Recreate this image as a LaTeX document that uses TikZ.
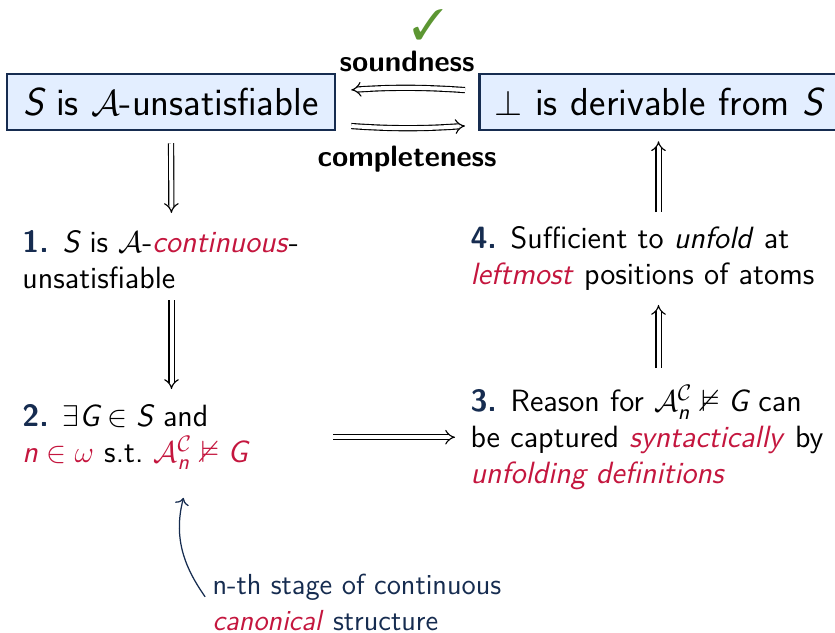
\documentclass[tikz,border=0pt]{standalone}
\usepackage{amsmath,amssymb}
\usepackage{pifont}
\usetikzlibrary{arrows.meta,positioning}
\renewcommand{\familydefault}{\sfdefault}

\definecolor{navy}{RGB}{22,44,80}
\definecolor{alertred}{RGB}{196,22,62}
\definecolor{boxfill}{RGB}{227,238,255}
\definecolor{okgreen}{RGB}{92,150,50}

\newcommand{\vi}[1]{\text{\normalfont\itshape #1}}
\newcommand{\alrt}[1]{\textcolor{alertred}{#1}}
\newcommand{\stepnum}[1]{\textcolor{navy}{\bfseries #1.}\hspace{0.45em}}

\tikzset{
  goalbox/.style={draw=navy, line width=1pt, fill=boxfill, minimum height=22.4pt,
    inner ysep=0pt, font=\fontsize{15.6}{19}\selectfont},
  stepitem/.style={align=left, inner sep=0pt, anchor=north west,
    font=\fontsize{12.3}{14.4}\selectfont},
  imp/.style={double, double distance=1.6pt, line width=0.45pt, -{Implies}},
  lbl/.style={font=\fontsize{11.8}{13}\selectfont\bfseries},
  notearrow/.style={navy, line width=0.5pt, ->},
}

\begin{document}
\begin{tikzpicture}[x=0.4pt,y=-0.4pt]
  \useasboundingbox (0,0) rectangle (835,633);

  % the two goals
  \node[goalbox, minimum width=131.2pt] (lbox) at (171,102)
    {$\vi{S}$ is $\mathcal{A}$-unsatisfiable};
  \node[goalbox, anchor=west, text width=160pt, inner xsep=6pt, align=left] (rbox) at (478,102)
    {$\bot$ is derivable from $\vi{S}$};

  % steps of the proof
  \node[stepitem, text width=119.2pt] (item1) at (22,230)
    {\stepnum{1}$\vi{S}$ is $\mathcal{A}$-\alrt{\textit{continuous}}-\\unsatisfiable};
  \node[stepitem, text width=119.2pt] (item2) at (22,404)
    {\stepnum{2}$\exists\vi{G}\in\vi{S}$ and\\
     \alrt{$\vi{n}\in\omega$} s.t.\ \alrt{$\mathcal{A}^{\mathcal{C}}_{\vi{n}}\nvDash\vi{G}$}};
  \node[stepitem, text width=150.4pt] (item3) at (470,385)
    {\stepnum{3}Reason for $\mathcal{A}^{\mathcal{C}}_{\vi{n}}\nvDash\vi{G}$ can\\
     be captured \alrt{\textit{syntactically}} by\\
     \alrt{\textit{unfolding definitions}}};
  \node[stepitem, text width=150.4pt] (item4) at (470,226)
    {\stepnum{4}Sufficient to \textit{unfold} at\\
     \alrt{\textit{leftmost}} positions of atoms};

  \node[stepitem, navy, font=\fontsize{11.6}{14.2}\selectfont] (note) at (212,574)
    {n-th stage of continuous\\\alrt{\textit{canonical}} structure};

  % soundness / completeness
  \draw[imp, shorten <=5.2pt, shorten >=6pt] ([yshift=4.4pt]rbox.west) to[bend right=4]
    node[lbl, above=3pt] (snd) {soundness} ([yshift=4.4pt]lbox.east);
  \draw[imp, shorten <=6pt, shorten >=5.2pt] ([yshift=-9.2pt]lbox.east) to[bend right=4]
    node[lbl, below=3.5pt] (cmp) {completeness} ([yshift=-9.2pt]rbox.west);
  \node[okgreen, font=\fontsize{17}{17}\selectfont] (tick) at (428,25) {\ding{51}};

  % chain of implications
  \draw[imp, shorten <=4.8pt, shorten >=6.8pt] (lbox.south) -- (item1.north);
  \draw[imp, shorten <=4.4pt, shorten >=6pt] (item1.south) -- (item2.north);
  \draw[imp, shorten <=4.8pt, shorten >=6pt] (item2.east) -- (item2.east -| item3.west);
  \draw[imp, shorten <=6.8pt, shorten >=5.6pt] (item3.north) -- (item4.south);
  \draw[imp, shorten <=5.6pt, shorten >=4pt] (item4.north) -- (rbox.south -| item4.north);

  \draw[notearrow, shorten <=4.8pt] ([yshift=-1.6pt]note.west) to[out=125,in=-105]
    ([xshift=4.8pt,yshift=-11pt]item2.south);
\end{tikzpicture}
\end{document}
